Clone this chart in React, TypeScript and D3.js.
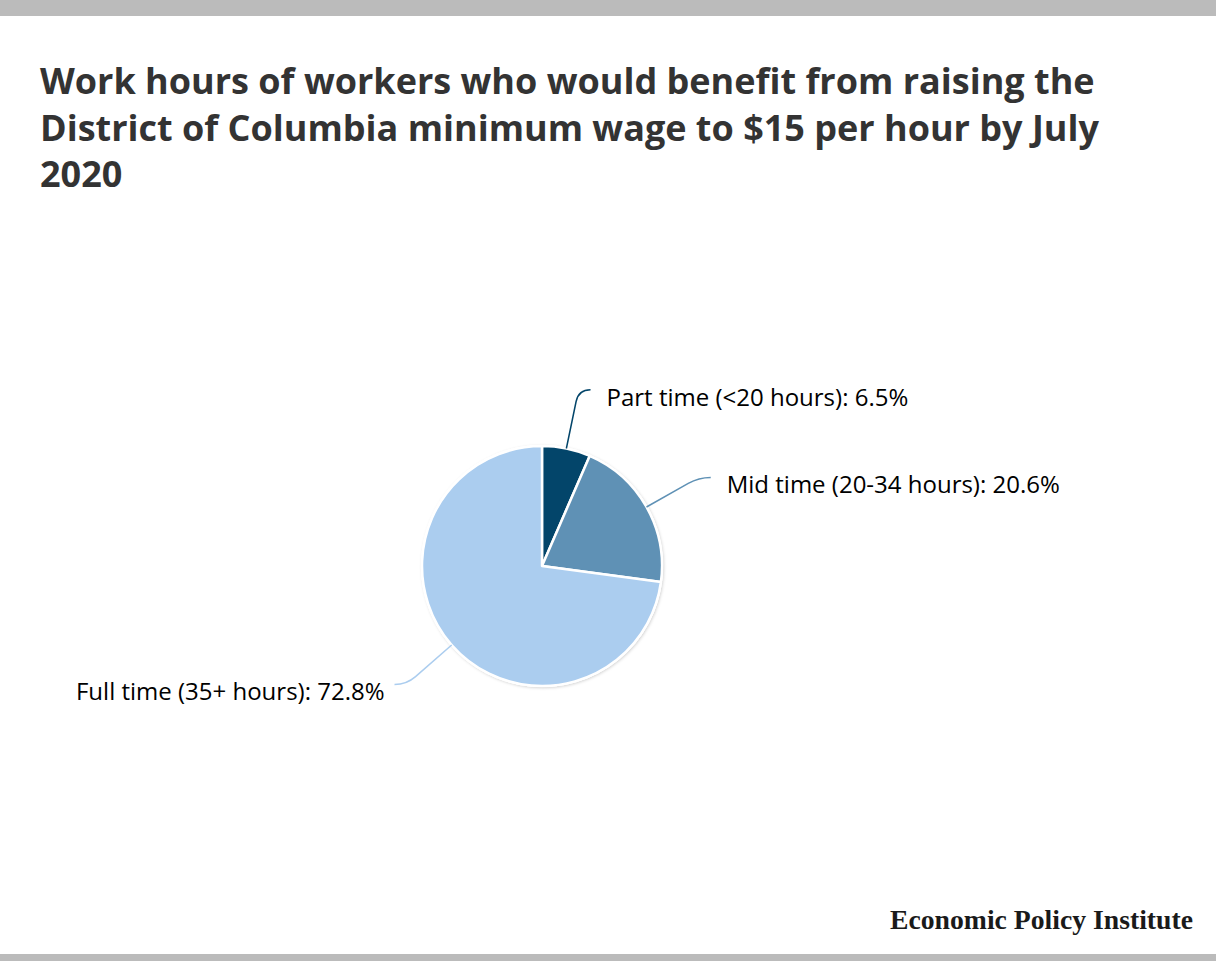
import React from "react";
import * as d3 from "d3";

const categories = ["Part time (<20 hours)", "Mid time (20-34 hours)", "Full time (35+ hours)"];
const shares = [6.5, 20.6, 72.8];
const sliceColors = ["#03456a", "#5f91b5", "#abcdef"];

const titleLines = [
  "Work hours of workers who would benefit from raising the",
  "District of Columbia minimum wage to $15 per hour by July",
  "2020",
];
const sourceLabel = "Economic Policy Institute";

const W = 1216;
const H = 961;
const cx = 542;
const cy = 566;
const radius = 120;
const bendR = 180;

export default function App() {
  const pie = d3.pie<number>().sort(null).value((d) => d);
  const arcs = pie(shares);
  const arcGen = d3.arc<d3.PieArcDatum<number>>().innerRadius(0).outerRadius(radius);

  const polar = (r: number, a: number) => [cx + r * Math.sin(a), cy - r * Math.cos(a)];

  return (
    <svg
      width={W}
      height={H}
      style={{ position: "absolute", left: 0, top: 0, fontVariantLigatures: "none" }}
      fontFamily="'Open Sans', sans-serif"
    >
      <defs>
        <filter id="shadow" x="-20%" y="-20%" width="140%" height="140%">
          <feDropShadow dx="1" dy="1" stdDeviation="1.5" floodColor="#000" floodOpacity="0.18" />
        </filter>
      </defs>
      <rect x={0} y={0} width={W} height={H} fill="#fff" />
      <rect x={0} y={0} width={W} height={16} fill="#bbbbbb" />
      <rect x={0} y={954} width={W} height={7} fill="#bbbbbb" />

      {titleLines.map((t, i) => (
        <text key={i} x={40} y={94 + i * 46.5} fontSize={36} fontWeight={700} fill="#333333">
          {t}
        </text>
      ))}

      <g>
        <circle cx={cx} cy={cy} r={radius + 1} fill="#fff" filter="url(#shadow)" />
        {arcs.map((a, i) => (
          <path
            key={i}
            d={arcGen(a) || ""}
            transform={`translate(${cx},${cy})`}
            fill={sliceColors[i]}
            stroke="#ffffff"
            strokeWidth={2.5}
            strokeLinejoin="round"
          />
        ))}
      </g>

      {arcs.map((a, i) => {
        const mid = (a.startAngle + a.endAngle) / 2;
        const right = Math.sin(mid) >= 0;
        const sign = right ? 1 : -1;
        const [x0, y0] = polar(radius, mid);
        const [xa, ya] = polar(bendR - 12, mid);
        const [x1, y1] = polar(bendR, mid);
        const x2 = x1 + sign * 12;
        const path = `M${x0},${y0} L${xa},${ya} Q${x1},${y1} ${x2},${y1}`;
        const tx = right ? x2 + 16 : x2 - 10;
        return (
          <g key={i}>
            <path d={path} fill="none" stroke={sliceColors[i]} strokeWidth={1.5} />
            <text
              x={tx}
              y={y1 + 16}
              fontSize={24}
              fill="#000"
              textAnchor={right ? "start" : "end"}
            >
              {`${categories[i]}: ${shares[i]}%`}
            </text>
          </g>
        );
      })}

      <text
        x={890}
        y={929}
        fontFamily="'Liberation Serif', 'DejaVu Serif', serif"
        fontWeight={700}
        fontSize={27}
        fill="#1a1a1a"
        textLength={303}
        lengthAdjust="spacingAndGlyphs"
      >
        {sourceLabel}
      </text>
    </svg>
  );
}
